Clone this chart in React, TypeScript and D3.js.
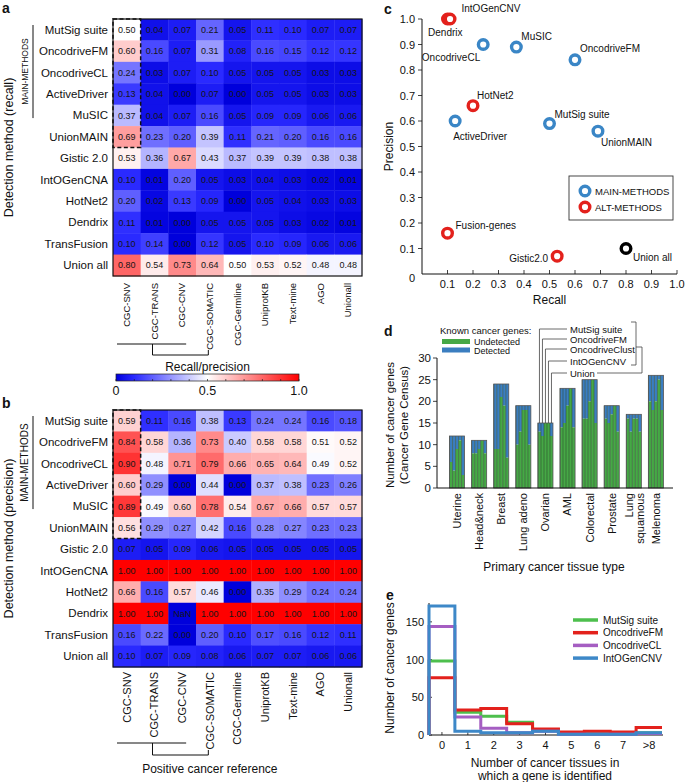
import React from "react";
import * as d3 from "d3";

const FONT = "'Liberation Sans', Arial, Helvetica, sans-serif";

// ---------- Panels a / b data ----------
const methods = [
  "MutSig suite", "OncodriveFM", "OncodriveCL", "ActiveDriver", "MuSIC", "UnionMAIN",
  "Gistic 2.0", "IntOGenCNA", "HotNet2", "Dendrix", "TransFusion", "Union all",
];
const references = [
  "CGC-SNV", "CGC-TRANS", "CGC-CNV", "CGC-SOMATIC", "CGC-Germline",
  "UniprotKB", "Text-mine", "AGO", "Unionall",
];
const recallValues = [
  [0.50, 0.04, 0.07, 0.21, 0.05, 0.11, 0.10, 0.07, 0.07],
  [0.60, 0.16, 0.07, 0.31, 0.08, 0.16, 0.15, 0.12, 0.12],
  [0.24, 0.03, 0.07, 0.10, 0.05, 0.05, 0.05, 0.03, 0.03],
  [0.13, 0.04, 0.00, 0.07, 0.00, 0.05, 0.05, 0.03, 0.03],
  [0.37, 0.04, 0.07, 0.16, 0.05, 0.09, 0.09, 0.06, 0.06],
  [0.69, 0.23, 0.20, 0.39, 0.11, 0.21, 0.20, 0.16, 0.16],
  [0.53, 0.36, 0.67, 0.43, 0.37, 0.39, 0.39, 0.38, 0.38],
  [0.10, 0.01, 0.20, 0.05, 0.03, 0.04, 0.03, 0.02, 0.01],
  [0.20, 0.02, 0.13, 0.09, 0.00, 0.05, 0.04, 0.03, 0.03],
  [0.11, 0.01, 0.00, 0.05, 0.05, 0.05, 0.03, 0.02, 0.01],
  [0.10, 0.14, 0.00, 0.12, 0.05, 0.10, 0.09, 0.06, 0.06],
  [0.80, 0.54, 0.73, 0.64, 0.50, 0.53, 0.52, 0.48, 0.48],
];
const precisionValues = [
  [0.59, 0.11, 0.16, 0.38, 0.13, 0.24, 0.24, 0.16, 0.18],
  [0.84, 0.58, 0.36, 0.73, 0.40, 0.58, 0.58, 0.51, 0.52],
  [0.90, 0.48, 0.71, 0.79, 0.66, 0.65, 0.64, 0.49, 0.52],
  [0.60, 0.29, 0.00, 0.44, 0.00, 0.37, 0.38, 0.23, 0.26],
  [0.89, 0.49, 0.60, 0.78, 0.54, 0.67, 0.66, 0.57, 0.57],
  [0.56, 0.29, 0.27, 0.42, 0.16, 0.28, 0.27, 0.23, 0.23],
  [0.07, 0.05, 0.09, 0.06, 0.05, 0.05, 0.05, 0.05, 0.05],
  [1.00, 1.00, 1.00, 1.00, 1.00, 1.00, 1.00, 1.00, 1.00],
  [0.66, 0.16, 0.57, 0.46, 0.00, 0.35, 0.29, 0.24, 0.24],
  [1.00, 1.00, NaN, 1.00, 1.00, 1.00, 1.00, 1.00, 1.00],
  [0.16, 0.22, 0.00, 0.20, 0.10, 0.17, 0.16, 0.12, 0.11],
  [0.10, 0.07, 0.09, 0.08, 0.06, 0.07, 0.07, 0.06, 0.06],
];
const colorbarTicks = [0, 0.5, 1.0];
const colorbarTickLabels = ["0", "0.5", "1.0"];

// ---------- Panel c data ----------
const scatterNames = [
  "IntOGenCNV", "Dendrix", "OncodriveCL", "MuSIC", "OncodriveFM", "HotNet2",
  "ActiveDriver", "MutSig suite", "UnionMAIN", "Fusion-genes", "Gistic2.0", "Union all",
];
const scatterRecall = [0.10, 0.11, 0.24, 0.37, 0.60, 0.20, 0.13, 0.50, 0.69, 0.10, 0.53, 0.80];
const scatterPrecision = [1.00, 1.00, 0.90, 0.89, 0.84, 0.66, 0.60, 0.59, 0.56, 0.16, 0.07, 0.10];
const scatterGroup = ["ALT", "ALT", "MAIN", "MAIN", "MAIN", "ALT", "MAIN", "MAIN", "MAIN", "ALT", "ALT", "ALL"];
const scatterTicks = [0.1, 0.2, 0.3, 0.4, 0.5, 0.6, 0.7, 0.8, 0.9, 1.0];

// ---------- Panel d data ----------
const tissues = [
  "Uterine", "Head&neck", "Breast", "Lung adeno", "Ovarian", "AML",
  "Colorectal", "Prostate", "Lung squamous", "Melenoma",
];
const totalGenes = [12, 11, 24, 19, 15, 23, 25, 19, 17, 26];
const barMethods = ["MutSig suite", "OncodriveFM", "OncodriveClust", "IntOGenCNV", "Union"];
const undetectedMutSig = [6, 8, 9, 10, 13, 14, 16, 16, 16, 20];
const undetectedOncodriveFM = [4, 8, 9, 13, 12, 15, 16, 15, 13, 18];
const undetectedOncodriveClust = [9, 9, 21, 18, 15, 19, 20, 17, 16, 20];
const undetectedIntOGenCNV = [11, 11, 19, 18, 15, 23, 25, 19, 16, 25];
const undetectedUnion = [3, 8, 7, 10, 12, 14, 15, 13, 13, 18];
const barTicks = [0, 5, 10, 15, 20, 25, 30];

// ---------- Panel e data ----------
const histBins = ["0", "1", "2", "3", "4", "5", "6", "7", ">8"];
const histMutSig = [98, 30, 25, 17, 7, 3, 3, 2, 3];
const histOncodriveFM = [76, 33, 35, 15, 8, 4, 5, 4, 10];
const histOncodriveCL = [144, 24, 9, 3, 5, 1, 1, 1, 2];
const histIntOGenCNV = [171, 5, 3, 3, 5, 1, 1, 1, 3];
const histNames = ["MutSig suite", "OncodriveFM", "OncodriveCL", "IntOGenCNV"];
const histTicks = [0, 50, 100, 150];

// ---------- styles ----------
const heatColor = d3
  .scaleLinear<string>()
  .domain([0, 0.1, 0.5, 1])
  .range(["#0000dc", "#2a2aff", "#ffffff", "#ff0000"])
  .clamp(true);
const MAIN_BLUE = "#3a86c6";
const ALT_RED = "#e3211c";
const BAR_GREEN = "#46a846";
const BAR_BLUE = "#3b7ec0";
const histColors = ["#4dbf4d", "#e3211c", "#a55ec2", "#3d88c8"];

const HM_LEFT = 113;
const HM_RIGHT = 362;
const HM_H = 257;

function Heatmap(props: {
  values: number[][];
  top: number;
  colLabelY: number;
  colFont: number;
  title: string;
  groupFont: number;
  dendroTop: number;
  dendroBottom: number;
}) {
  const { values, top, colLabelY, colFont, title, groupFont, dendroTop, dendroBottom } = props;
  const x = d3.scaleBand<string>().domain(references).range([HM_LEFT, HM_RIGHT]);
  const y = d3.scaleBand<string>().domain(methods).range([top, top + HM_H]);
  const bw = x.bandwidth();
  const bh = y.bandwidth();
  const groupTop = y(methods[0])! + 6;
  const groupBottom = y(methods[4])! + bh - 8;
  const cx = (r: string) => x(r)! + bw / 2;
  return (
    <g>
      {methods.map((m, i) =>
        references.map((r, j) => {
          const v = values[i][j];
          return (
            <rect
              key={`c${i}-${j}`}
              x={x(r)}
              y={y(m)}
              width={bw + 0.4}
              height={bh + 0.4}
              fill={isNaN(v) ? heatColor(0) : heatColor(v)}
            />
          );
        })
      )}
      {methods.map((m, i) =>
        references.map((r, j) => {
          const v = values[i][j];
          return (
            <text
              key={`t${i}-${j}`}
              x={cx(r)}
              y={y(m)! + bh / 2 + 3.2}
              textAnchor="middle"
              fontSize={9}
              fill="#151515"
            >
              {isNaN(v) ? "NaN" : v.toFixed(2)}
            </text>
          );
        })
      )}
      <rect x={HM_LEFT} y={top} width={HM_RIGHT - HM_LEFT} height={HM_H} fill="none" stroke="#111" strokeWidth={1.2} />
      <rect
        x={x(references[0])}
        y={top}
        width={bw}
        height={bh * 6}
        fill="none"
        stroke="#111"
        strokeWidth={1.5}
        strokeDasharray="4,2.5"
      />
      {methods.map((m) => (
        <text key={m} x={108} y={y(m)! + bh / 2 + 4} textAnchor="end" fontSize={11.5} fill="#111">
          {m}
        </text>
      ))}
      {references.map((r) => (
        <text
          key={r}
          transform={`translate(${cx(r)},${colLabelY}) rotate(-90)`}
          textAnchor="end"
          dy="0.35em"
          fontSize={colFont}
          fill="#111"
        >
          {r}
        </text>
      ))}
      <line x1={33} x2={33} y1={groupTop} y2={groupBottom} stroke="#111" strokeWidth={1} />
      <text
        transform={`translate(28,${(groupTop + groupBottom) / 2}) rotate(-90)`}
        textAnchor="middle"
        fontSize={groupFont}
        fill="#111"
      >
        MAIN-METHODS
      </text>
      <text
        transform={`translate(13,${top + HM_H / 2}) rotate(-90)`}
        textAnchor="middle"
        fontSize={12.5}
        fill="#111"
      >
        {title}
      </text>
      <path
        d={`M${HM_LEFT + 4},${dendroTop}H${cx(references[2]) + 4}M${cx(references[1]) - 2},${dendroTop}V${dendroBottom}H${cx(references[3]) - 1.5}V${dendroBottom - 5}`}
        fill="none"
        stroke="#111"
        strokeWidth={1}
      />
    </g>
  );
}

function Colorbar() {
  const s = d3.scaleLinear().domain([0, 1]).range([116, 299]);
  const stops = d3.range(0, 1.0001, 0.05);
  const minor = d3.range(0, 1.0001, 0.1);
  return (
    <g>
      <defs>
        <linearGradient id="cbgrad" x1="0" x2="1" y1="0" y2="0">
          {stops.map((t) => (
            <stop key={t} offset={`${t * 100}%`} stopColor={heatColor(t)} />
          ))}
        </linearGradient>
      </defs>
      <text x={s(0.5)} y={371} textAnchor="middle" fontSize={12} fill="#111">
        Recall/precision
      </text>
      <rect x={s(0)} y={374} width={s(1) - s(0)} height={7} fill="url(#cbgrad)" stroke="#222" strokeWidth={0.7} />
      {minor.map((t) => (
        <line key={t} x1={s(t)} x2={s(t)} y1={381} y2={379} stroke="#222" strokeWidth={0.7} />
      ))}
      {colorbarTicks.map((t, i) => (
        <text key={t} x={s(t)} y={395} textAnchor="middle" fontSize={12.5} fill="#111">
          {colorbarTickLabels[i]}
        </text>
      ))}
    </g>
  );
}

const labelPlace: Record<string, [number, number, string]> = {
  IntOGenCNV: [14, -7, "start"],
  Dendrix: [-22, 17, "start"],
  OncodriveCL: [-3, 16, "end"],
  MuSIC: [5, -7, "start"],
  OncodriveFM: [5, -8, "start"],
  HotNet2: [4, -7, "start"],
  ActiveDriver: [-2, 19, "start"],
  "MutSig suite": [5, -6, "start"],
  UnionMAIN: [3, 15, "start"],
  "Fusion-genes": [8, -4, "start"],
  "Gistic2.0": [-9, 6, "end"],
  "Union all": [7, 12, "start"],
};

function Scatter() {
  const xs = d3.scaleLinear().domain([0, 1]).range([422, 677]);
  const ys = d3.scaleLinear().domain([0, 1]).range([274, 19]);
  const groupColor = (g: string) => (g === "MAIN" ? MAIN_BLUE : g === "ALT" ? ALT_RED : "#000");
  return (
    <g>
      <line x1={xs(0)} x2={xs(0)} y1={ys(0)} y2={ys(1)} stroke="#111" strokeWidth={1} />
      <line x1={xs(0)} x2={xs(1)} y1={ys(0)} y2={ys(0)} stroke="#111" strokeWidth={1} />
      {scatterTicks.map((t) => (
        <g key={`y${t}`}>
          <line x1={xs(0) - 4} x2={xs(0)} y1={ys(t)} y2={ys(t)} stroke="#111" strokeWidth={0.8} />
          <text x={415} y={ys(t) + 4} textAnchor="end" fontSize={11} fill="#111">
            {t.toFixed(1)}
          </text>
        </g>
      ))}
      {scatterTicks.map((t) => (
        <g key={`x${t}`}>
          <line x1={xs(t)} x2={xs(t)} y1={ys(0)} y2={ys(0) - 4} stroke="#111" strokeWidth={0.8} />
          <text x={xs(t)} y={288} textAnchor="middle" fontSize={11} fill="#111">
            {t.toFixed(1)}
          </text>
        </g>
      ))}
      <text x={415} y={282} textAnchor="end" fontSize={11} fill="#111">0</text>
      <text x={xs(0.5)} y={304} textAnchor="middle" fontSize={12} fill="#111">Recall</text>
      <text transform={`translate(393,${ys(0.5)}) rotate(-90)`} textAnchor="middle" fontSize={12} fill="#111">
        Precision
      </text>
      {scatterNames.map((n, i) => (
        <circle
          key={n}
          cx={xs(scatterRecall[i])}
          cy={ys(scatterPrecision[i])}
          r={4.8}
          fill="#fff"
          stroke={groupColor(scatterGroup[i])}
          strokeWidth={3.4}
        />
      ))}
      {scatterNames.map((n, i) => {
        const [dx, dy, anchor] = labelPlace[n];
        return (
          <text
            key={`l${n}`}
            x={xs(scatterRecall[i]) + dx}
            y={ys(scatterPrecision[i]) + dy}
            textAnchor={anchor}
            fontSize={10}
            fill="#111"
          >
            {n}
          </text>
        );
      })}
      <rect x={569} y={176} width={104} height={44} fill="#fff" stroke="#333" strokeWidth={0.9} />
      <circle cx={585} cy={191} r={4.8} fill="#fff" stroke={MAIN_BLUE} strokeWidth={3.4} />
      <circle cx={585} cy={207} r={4.8} fill="#fff" stroke={ALT_RED} strokeWidth={3.4} />
      <text x={595} y={194.5} fontSize={9.5} fill="#111">MAIN-METHODS</text>
      <text x={595} y={210.5} fontSize={9.5} fill="#111">ALT-METHODS</text>
    </g>
  );
}

function Bars() {
  const x = d3.scaleBand<string>().domain(tissues).range([446, 667]).paddingInner(0.32).paddingOuter(0.16);
  const y = d3.scaleLinear().domain([0, 30]).range([488, 358]);
  const undetected = [undetectedMutSig, undetectedOncodriveFM, undetectedOncodriveClust, undetectedIntOGenCNV, undetectedUnion];
  const sw = x.bandwidth() / barMethods.length;
  const axisX = 437;
  const ovIdx = tissues.indexOf("Ovarian");
  const ovX = x(tissues[ovIdx])!;
  const ovTop = y(totalGenes[ovIdx]);
  const labelYs = [329, 339, 349, 361, 373];
  return (
    <g>
      {tissues.map((t, i) => (
        <g key={t}>
          {barMethods.map((m, k) => {
            const x0 = x(t)! + k * sw;
            return (
              <g key={m}>
                <rect x={x0} y={y(totalGenes[i])} width={sw} height={y(undetected[k][i]) - y(totalGenes[i])} fill={BAR_BLUE} />
                <rect x={x0} y={y(undetected[k][i])} width={sw} height={y(0) - y(undetected[k][i])} fill={BAR_GREEN} />
                <line x1={x0} x2={x0} y1={y(totalGenes[i])} y2={y(0)} stroke="#1f3a1f" strokeWidth={0.5} />
              </g>
            );
          })}
          <rect
            x={x(t)}
            y={y(totalGenes[i])}
            width={x.bandwidth()}
            height={y(0) - y(totalGenes[i])}
            fill="none"
            stroke="#555"
            strokeWidth={0.8}
          />
          {t === "Lung squamous" ? (
            <g>
              <text transform={`translate(${x(t)! + x.bandwidth() / 2 - 5},493) rotate(-90)`} textAnchor="end" dy="0.35em" fontSize={11} fill="#111">Lung</text>
              <text transform={`translate(${x(t)! + x.bandwidth() / 2 + 6},493) rotate(-90)`} textAnchor="end" dy="0.35em" fontSize={11} fill="#111">squamous</text>
            </g>
          ) : (
            <text transform={`translate(${x(t)! + x.bandwidth() / 2},493) rotate(-90)`} textAnchor="end" dy="0.35em" fontSize={11} fill="#111">
              {t}
            </text>
          )}
        </g>
      ))}
      <line x1={axisX} x2={axisX} y1={y(30)} y2={y(0)} stroke="#111" strokeWidth={1} />
      <line x1={axisX} x2={673} y1={y(0)} y2={y(0)} stroke="#111" strokeWidth={1} />
      {barTicks.map((t) => (
        <g key={t}>
          <line x1={axisX - 4} x2={axisX} y1={y(t)} y2={y(t)} stroke="#111" strokeWidth={0.8} />
          <text x={axisX - 6} y={y(t) + 4} textAnchor="end" fontSize={11.5} fill="#111">{t}</text>
        </g>
      ))}
      <text transform={`translate(394,425) rotate(-90)`} textAnchor="middle" fontSize={11.5} fill="#111">Number of cancer genes</text>
      <text transform={`translate(408,425) rotate(-90)`} textAnchor="middle" fontSize={11.5} fill="#111">(Cancer Gene Census)</text>
      <text x={554} y={571} textAnchor="middle" fontSize={12} fill="#111">Primary cancer tissue type</text>
      {/* legend */}
      <text x={440} y={334} fontSize={9.5} fill="#111">Known cancer genes:</text>
      <rect x={442} y={339} width={28} height={5} fill={BAR_GREEN} />
      <rect x={442} y={347.5} width={28} height={5} fill={BAR_BLUE} />
      <text x={474} y={345} fontSize={9} fill="#111">Undetected</text>
      <text x={474} y={354} fontSize={9} fill="#111">Detected</text>
      {barMethods.map((m, k) => {
        const lx = ovX + k * sw + sw / 2;
        return (
          <g key={m}>
            <path d={`M${lx},${ovTop}V${labelYs[k]}H${567}`} fill="none" stroke="#444" strokeWidth={0.8} />
            <text x={570} y={labelYs[k] + 3.5} fontSize={9.5} fill="#111">{m}</text>
          </g>
        );
      })}
      <path d="M631,322H636V365H631" fill="none" stroke="#444" strokeWidth={0.8} />
      <path d="M636,347H642V373H597" fill="none" stroke="#444" strokeWidth={0.8} />
    </g>
  );
}

function Hist() {
  const x = d3.scaleBand<string>().domain(histBins).range([429, 662]);
  const y = d3.scaleLinear().domain([0, 175]).range([735, 603]);
  const series = [histMutSig, histOncodriveFM, histOncodriveCL, histIntOGenCNV];
  const line = d3
    .line<[number, number]>()
    .x((d) => d[0])
    .y((d) => y(d[1]))
    .curve(d3.curveStepAfter);
  const pathFor = (vals: number[]) => {
    const pts: [number, number][] = [[x(histBins[0])!, 0]];
    histBins.forEach((b, i) => pts.push([x(b)!, vals[i]]));
    pts.push([x(histBins[histBins.length - 1])! + x.bandwidth(), vals[vals.length - 1]]);
    return line(pts) || "";
  };
  return (
    <g>
      <line x1={429} x2={429} y1={y(175)} y2={y(0)} stroke="#111" strokeWidth={1} />
      <line x1={429} x2={663} y1={y(0)} y2={y(0)} stroke="#111" strokeWidth={1} />
      {histTicks.map((t) => (
        <g key={t}>
          <line x1={429} x2={432} y1={y(t)} y2={y(t)} stroke="#111" strokeWidth={0.8} />
          <text x={424} y={y(t) + 4} textAnchor="end" fontSize={11} fill="#111">{t}</text>
        </g>
      ))}
      {histBins.map((b) => (
        <g key={b}>
          <line x1={x(b)! + x.bandwidth() / 2} x2={x(b)! + x.bandwidth() / 2} y1={y(0)} y2={y(0) - 3} stroke="#111" strokeWidth={0.8} />
          <text x={x(b)! + x.bandwidth() / 2} y={749} textAnchor="middle" fontSize={11} fill="#111">{b}</text>
        </g>
      ))}
      {series.map((s, i) => (
        <path key={i} d={pathFor(s)} fill="none" stroke={histColors[i]} strokeWidth={3} />
      ))}
      {histNames.map((n, i) => (
        <g key={n}>
          <line x1={573} x2={598} y1={620 + i * 12.7} y2={620 + i * 12.7} stroke={histColors[i]} strokeWidth={3.5} />
          <text x={603} y={620 + i * 12.7 + 3.5} fontSize={10} fill="#111">{n}</text>
        </g>
      ))}
      <text transform={`translate(394,668) rotate(-90)`} textAnchor="middle" fontSize={12} fill="#111">Number of cancer genes</text>
      <text x={545} y={767} textAnchor="middle" fontSize={12} fill="#111">Number of cancer tissues in</text>
      <text x={545} y={780} textAnchor="middle" fontSize={12} fill="#111">which a gene is identified</text>
    </g>
  );
}

export default function App() {
  const xRef = d3.scaleBand<string>().domain(references).range([HM_LEFT, HM_RIGHT]);
  return (
    <svg
      width={685}
      height={782}
      style={{ position: "absolute", left: 0, top: 0, background: "#fff" }}
      fontFamily={FONT}
    >
      <rect width={685} height={782} fill="#fff" />
      <Heatmap
        values={recallValues}
        top={19}
        colLabelY={283}
        colFont={9.5}
        title="Detection method (recall)"
        groupFont={8.5}
        dendroTop={344}
        dendroBottom={355}
      />
      <Colorbar />
      <Heatmap
        values={precisionValues}
        top={410}
        colLabelY={672}
        colFont={11}
        title="Detection method (precision)"
        groupFont={10}
        dendroTop={743}
        dendroBottom={755}
      />
      <text x={xRef(references[3])! + xRef.bandwidth() / 2} y={773} textAnchor="middle" fontSize={12} fill="#111">
        Positive cancer reference
      </text>
      <Scatter />
      <Bars />
      <Hist />
      <g fontWeight="bold" fontSize={14} fill="#111">
        <text x={2} y={13}>a</text>
        <text x={2} y={408}>b</text>
        <text x={384} y={14}>c</text>
        <text x={384} y={336}>d</text>
        <text x={386} y={600}>e</text>
      </g>
    </svg>
  );
}
